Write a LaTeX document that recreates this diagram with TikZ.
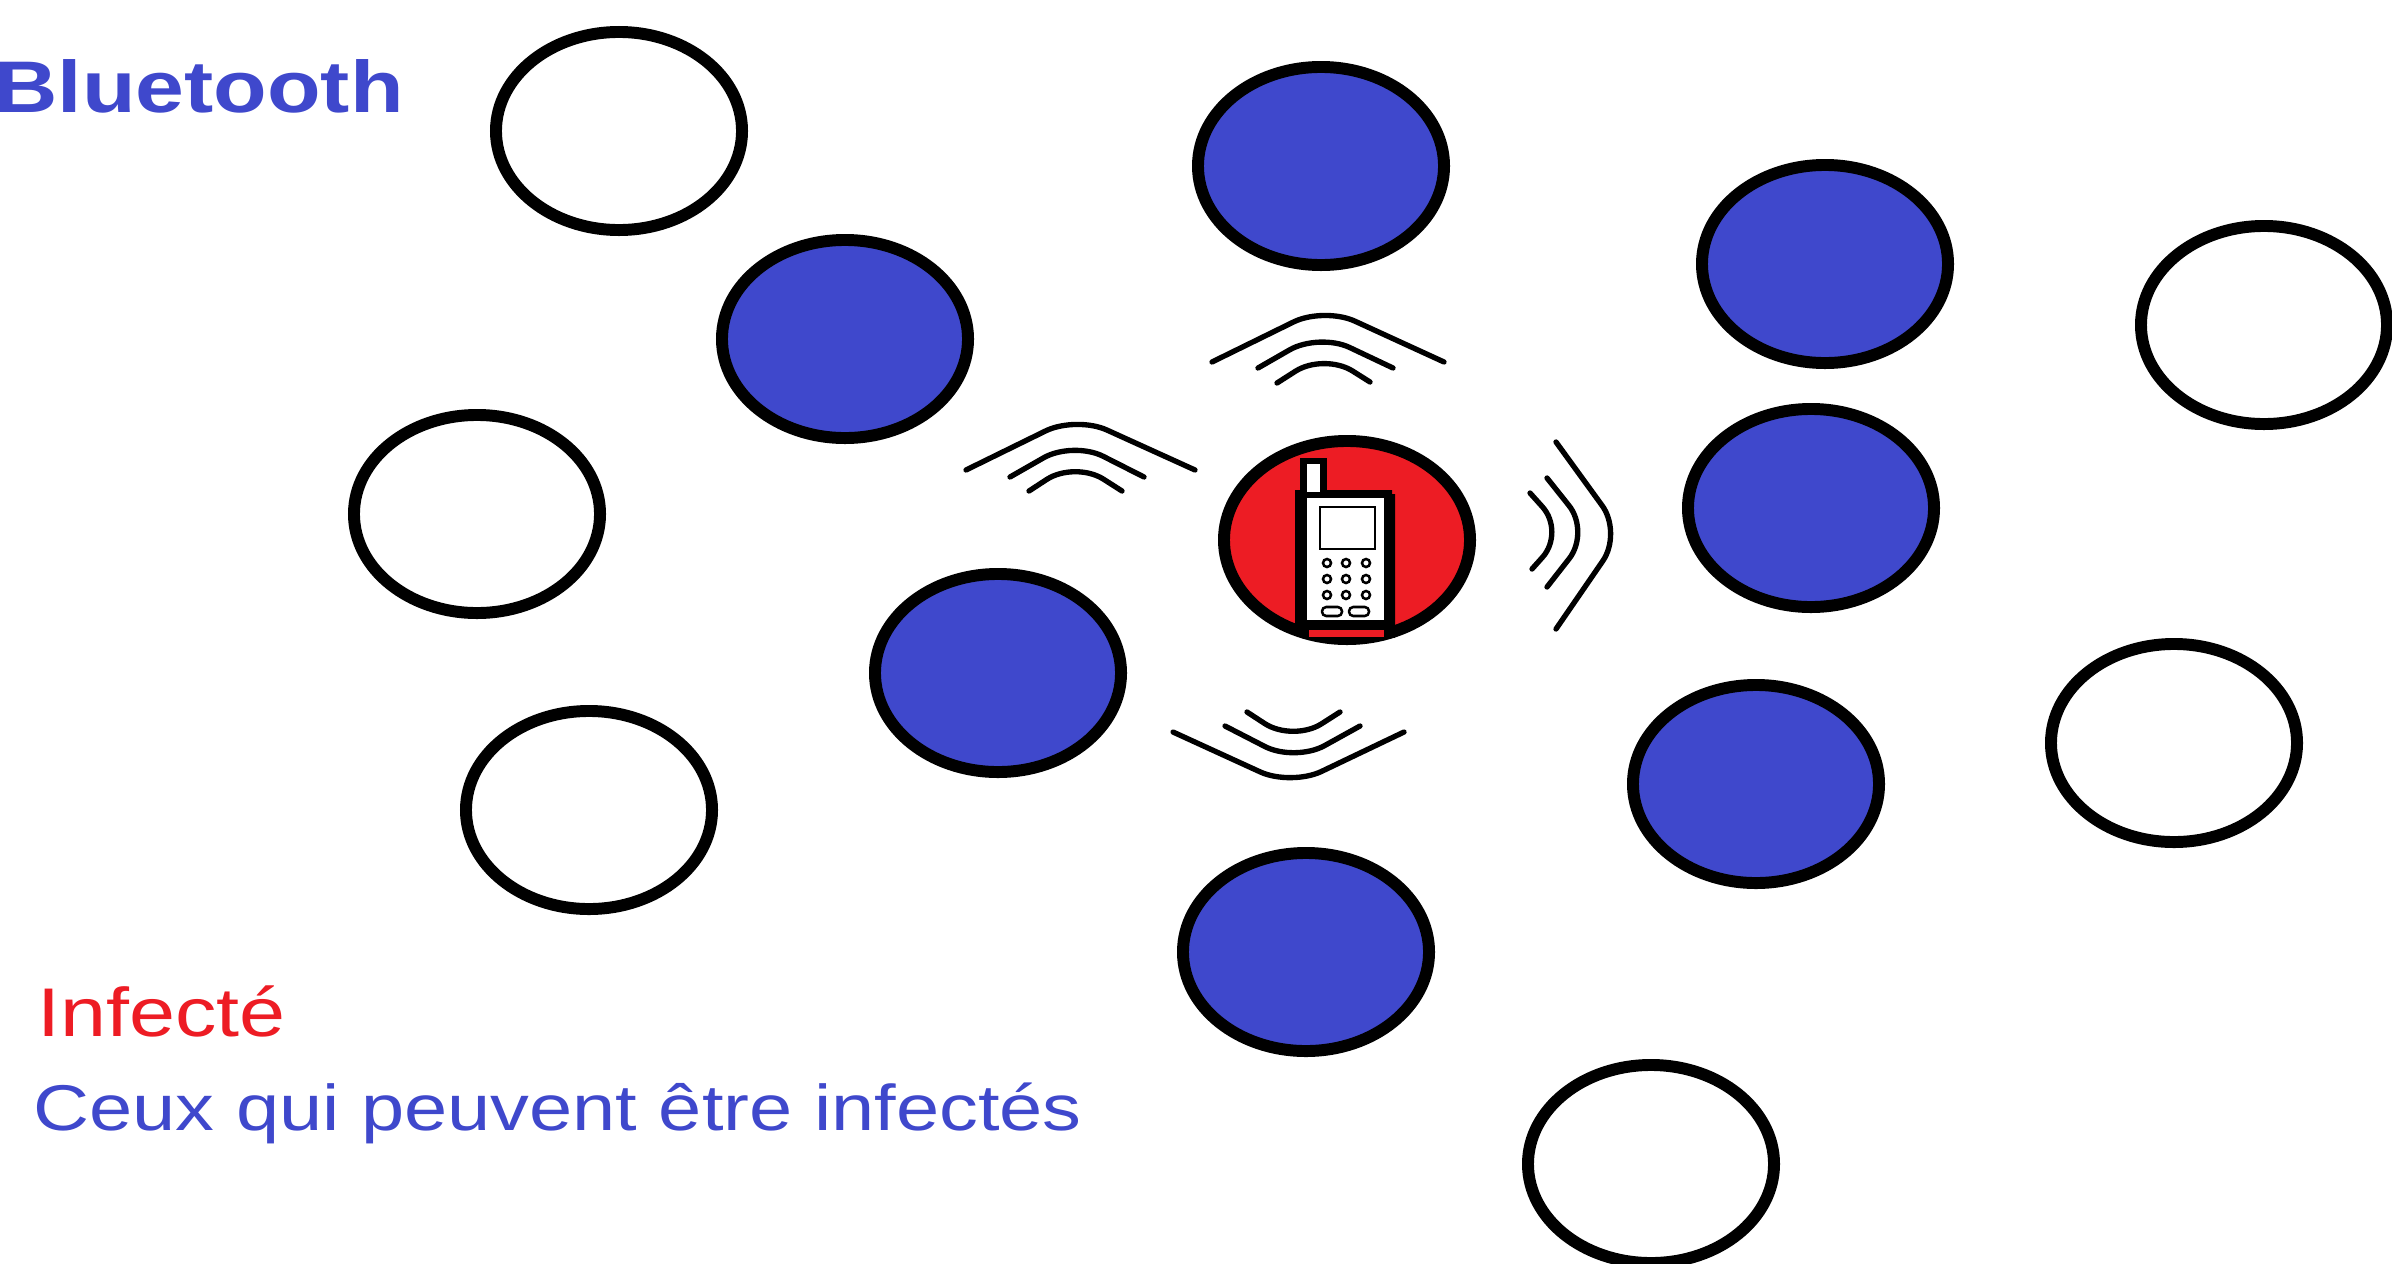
\documentclass[tikz,border=0pt]{standalone}
\usepackage{fontspec}
\setmainfont{Liberation Sans}
\usepackage{tikz}
\usetikzlibrary{shapes.geometric,positioning}
\definecolor{cBlue}{RGB}{63,72,204}
\definecolor{cRed}{RGB}{237,28,36}
\tikzset{
  phone/.style={draw=black,line width=8.5pt,ellipse,inner sep=0pt,minimum width=6.15cm,minimum height=4.95cm},
  libre/.style={phone,fill=white},
  expose/.style={phone,fill=cBlue},
  infecte/.style={phone,fill=cRed},
  signal/.style={draw=black,line width=3.8pt,rounded corners=24pt,line cap=round},
  legend/.style={anchor=base west,inner sep=0pt,transform shape},
  touche/.style={draw=black,line width=1.8pt,fill=white}
}
\begin{document}
\begin{tikzpicture}[x=0.025cm,y=-0.025cm]
\useasboundingbox (0,0) rectangle (2392,1263);
\clip (0,0) rectangle (2392,1263);
% telephones hors de portee
\node[libre] (w1) at (619,131) {};
\node[libre] (w2) at (477,514) {};
\node[libre] (w3) at (589,810) {};
\node[libre] (w4) at (2264,325) {};
\node[libre] (w5) at (2174,743) {};
\node[libre] (w6) at (1651,1164) {};
% telephones a portee
\node[expose] (b1) at (845,339) {};
\node[expose] (b2) at (1321,166) {};
\node[expose] (b3) at (1825,264) {};
\node[expose] (b4) at (1811,508) {};
\node[expose] (b5) at (998,673) {};
\node[expose] (b6) at (1756,784) {};
\node[expose] (b7) at (1306,952) {};
% telephone infecte
\node[infecte] (r1) at (1347,540) {};
\fill[black] (1295,490) -- (1392,490) -- (1392,494) -- (1395,494) -- (1395,638) -- (1295,633) -- cycle;
\fill[black] (1300,458) rectangle (1327,492);
\fill[white] (1307,464) rectangle (1320,492);
\fill[white] (1307,498) rectangle (1384,620);
\fill[cRed] (1309,630) rectangle (1384,637);
\draw[black,line width=1.4pt] (1320,507) rectangle (1375,549);
\foreach \ky in {563,579,595}
  \foreach \kx in {1327,1346,1366}
    \draw[touche] (\kx,\ky) circle (4);
\draw[touche,rounded corners=3pt] (1322,607) rectangle (1342,616);
\draw[touche,rounded corners=3pt] (1349,607) rectangle (1369,616);
% ondes
\draw[signal] (1212,362) -- (1324,307) -- (1444,362);
\draw[signal] (1258,368) -- (1319,333) -- (1393,368);
\draw[signal] (1277,383) -- (1324,353) -- (1370,382);
\draw[signal] (966,470) -- (1076,416) -- (1195,470);
\draw[signal] (1010,477) -- (1073,441) -- (1144,477);
\draw[signal] (1029,491) -- (1075,461) -- (1122,491);
\draw[signal] (1556,442) -- (1622,533) -- (1556,629);
\draw[signal] (1547,478) -- (1590,532) -- (1547,587);
\draw[signal] (1530,493) -- (1565,532) -- (1532,569);
\draw[signal] (1173,732) -- (1291,786) -- (1404,732);
\draw[signal] (1225,726) -- (1295,762) -- (1360,726);
\draw[signal] (1247,712) -- (1293,742) -- (1340,712);
% legende
\node[legend,text=cBlue,xscale=1.2] (t1) at (-6,112) {\fontsize{52}{60}\selectfont\bfseries Bluetooth};
\node[legend,text=cRed,xscale=1.2] (t2) at (37,1036) {\fontsize{49}{56}\selectfont Infecté};
\node[legend,text=cBlue,xscale=1.2] (t3) at (33,1130) {\fontsize{46}{52}\selectfont Ceux qui peuvent être infectés};
\end{tikzpicture}
\end{document}
